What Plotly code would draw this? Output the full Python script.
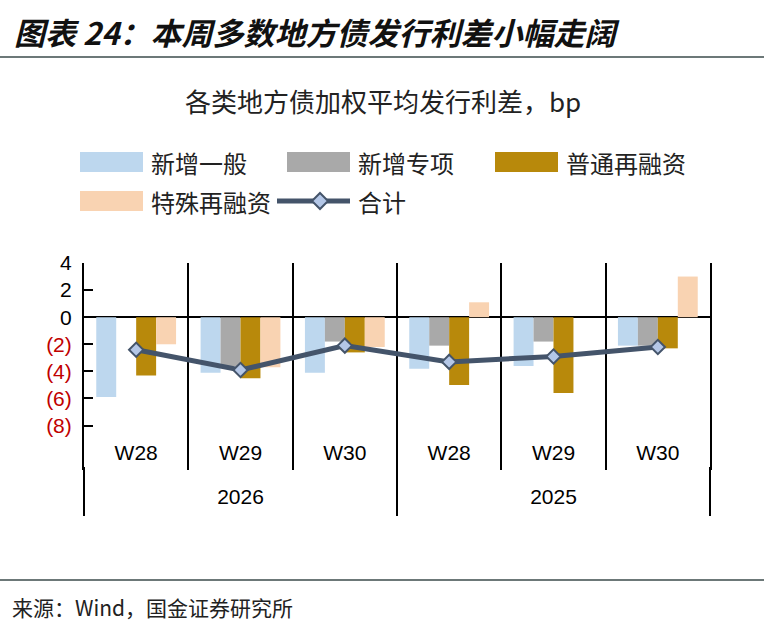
import plotly.graph_objects as go

# ---------------- data ----------------
years = ["2026", "2025"]
weeks = ["W28", "W29", "W30"]
series_names = ["新增一般", "新增专项", "普通再融资", "特殊再融资"]
xinzeng_yiban = [-5.9, -4.1, -4.1, -3.8, -3.6, -2.1]
xinzeng_zhuanxiang = [None, -3.6, -1.8, -2.1, -1.8, -2.1]
putong_zairongzi = [-4.3, -4.5, -2.6, -5.0, -5.6, -2.3]
teshu_zairongzi = [-2.0, -3.7, -2.2, 1.1, None, 3.0]
total_name = "合计"
heji = [-2.4, -3.9, -2.1, -3.3, -2.9, -2.2]
ytick_vals = [4, 2, 0, -2, -4, -6, -8]
ytick_text = ["4", "2", "0", "(2)", "(4)", "(6)", "(8)"]

title_text = "图表 24：本周多数地方债发行利差小幅走阔"
subtitle_text = "各类地方债加权平均发行利差，bp"
source_text = "来源：Wind，国金证券研究所"

# ---------------- styles ----------------
bar_colors = ["#BDD7EE", "#A9A9A9", "#B8890B", "#F9D3B2"]
line_color = "#44546A"
marker_fill = "#B4C7E7"
neg_color = "#C00000"
cjk = "Noto Sans CJK SC"
latin = "Liberation Sans, Arial"

W, H = 764, 635
L, R, T, B = 84, 54, 263, 105
pw, ph = W - L - R, H - T - B


def px(x):
    return (x - L) / pw


def py(y):
    return (H - B - y) / ph


categories = [f"{y} {w}" for y in years for w in weeks]
week_labels = [w for y in years for w in weeks]
bar_series = [xinzeng_yiban, xinzeng_zhuanxiang, putong_zairongzi, teshu_zairongzi]

fig = go.Figure()
for name, vals, col in zip(series_names, bar_series, bar_colors):
    fig.add_trace(go.Bar(x=categories, y=vals, name=name, marker=dict(color=col, line=dict(width=0)),
                         showlegend=False))
fig.add_trace(go.Scatter(x=categories, y=heji, name=total_name, mode="lines+markers",
                         line=dict(color=line_color, width=5),
                         marker=dict(symbol="diamond", size=11, color=marker_fill,
                                     line=dict(color=line_color, width=2)),
                         showlegend=False))
# empty helper traces so the year axes (dividers + labels) get their categories
for ax in ["x2", "x3"]:
    fig.add_trace(go.Scatter(x=years, y=[None] * len(years), xaxis=ax, yaxis="y", mode="markers",
                             showlegend=False, hoverinfo="skip"))

ticktext_colored = [t if v >= 0 else f"<span style='color:{neg_color}'>{t}</span>"
                    for v, t in zip(ytick_vals, ytick_text)]

fig.update_layout(
    width=W, height=H,
    margin=dict(l=L, r=R, t=T, b=B, pad=0, autoexpand=False),
    paper_bgcolor="white", plot_bgcolor="white",
    barmode="group", bargap=0.235, bargroupgap=0,
    showlegend=False,
    font=dict(family=cjk, color="#222"),
    yaxis=dict(domain=[py(470), 1], range=[-11.28, 4], tickvals=ytick_vals, ticktext=ticktext_colored,
               ticks="inside", ticklen=9, tickwidth=2, tickcolor="black", ticklabelstandoff=6,
               showline=True, linecolor="black", linewidth=2, mirror=True,
               zeroline=True, zerolinecolor="black", zerolinewidth=2,
               showgrid=False, tickfont=dict(family=latin, size=21, color="black")),
    xaxis=dict(type="category", categoryorder="array", categoryarray=categories,
               range=[-0.5, len(categories) - 0.5],
               tickson="boundaries", showgrid=True, gridcolor="black", gridwidth=2,
               ticks="", tickvals=categories, ticktext=week_labels,
               anchor="free", position=py(438), showline=False, zeroline=False,
               tickfont=dict(family=latin, size=21, color="black")),
    xaxis2=dict(type="category", categoryorder="array", categoryarray=years,
                range=[-0.5, len(years) - 0.5], overlaying="x", anchor="free", position=py(466),
                side="bottom",
                tickson="boundaries", ticks="outside", ticklen=49, tickwidth=2, tickcolor="black",
                showticklabels=False, showgrid=False, showline=False, zeroline=False),
    xaxis3=dict(type="category", categoryorder="array", categoryarray=years,
                range=[-0.5, len(years) - 0.5], overlaying="x", anchor="free", position=py(482),
                side="bottom", ticks="", showgrid=False, showline=False, zeroline=False,
                tickfont=dict(family=latin, size=21, color="black")),
)

shapes = []
annotations = []

# title, rules, subtitle, source
annotations.append(dict(text=title_text, x=px(12), y=py(31), xref="paper", yref="paper",
                        xanchor="left", yanchor="middle", showarrow=False,
                        font=dict(family=cjk, size=31, color="#111", weight="bold", style="italic")))
shapes.append(dict(type="line", xref="paper", yref="paper", x0=px(0), x1=px(W), y0=py(57), y1=py(57),
                   line=dict(color="#3B4B4B", width=1.5)))
annotations.append(dict(text=subtitle_text, x=px(383), y=py(100), xref="paper", yref="paper",
                        xanchor="center", yanchor="middle", showarrow=False,
                        font=dict(family=cjk, size=26, color="#222")))
shapes.append(dict(type="line", xref="paper", yref="paper", x0=px(0), x1=px(W), y0=py(580), y1=py(580),
                   line=dict(color="#3B4B4B", width=1.5)))
annotations.append(dict(text=source_text, x=px(10), y=py(607), xref="paper", yref="paper",
                        xanchor="left", yanchor="middle", showarrow=False,
                        font=dict(family=cjk, size=21, color="#222")))

# legend (custom, wide swatches)
leg_slots = [(80, 162), (287, 162), (495, 162), (80, 201)]
for (lx, ly), name, col in zip(leg_slots, series_names, bar_colors):
    shapes.append(dict(type="rect", xref="paper", yref="paper", x0=px(lx), x1=px(lx + 63),
                       y0=py(ly - 10), y1=py(ly + 10), fillcolor=col, line=dict(width=0)))
    annotations.append(dict(text=name, x=px(lx + 69), y=py(ly), xref="paper", yref="paper",
                            xanchor="left", yanchor="middle", showarrow=False,
                            font=dict(family=cjk, size=24, color="#222")))
lx, ly = 277, 201
shapes.append(dict(type="line", xref="paper", yref="paper", x0=px(lx), x1=px(lx + 73), y0=py(ly), y1=py(ly),
                   line=dict(color=line_color, width=5)))
cx, d = 320, 8
shapes.append(dict(type="path", xref="paper", yref="paper",
                   path=f"M {px(cx - d)} {py(ly)} L {px(cx)} {py(ly - d)} L {px(cx + d)} {py(ly)} L {px(cx)} {py(ly + d)} Z",
                   fillcolor=marker_fill, line=dict(color=line_color, width=2)))
annotations.append(dict(text=total_name, x=px(lx + 79), y=py(ly), xref="paper", yref="paper",
                        xanchor="left", yanchor="middle", showarrow=False,
                        font=dict(family=cjk, size=24, color="#222")))

fig.update_layout(shapes=shapes, annotations=annotations)
fig.write_html("out.html", config={"displayModeBar": False},
               post_script="document.body.style.margin='0';")
